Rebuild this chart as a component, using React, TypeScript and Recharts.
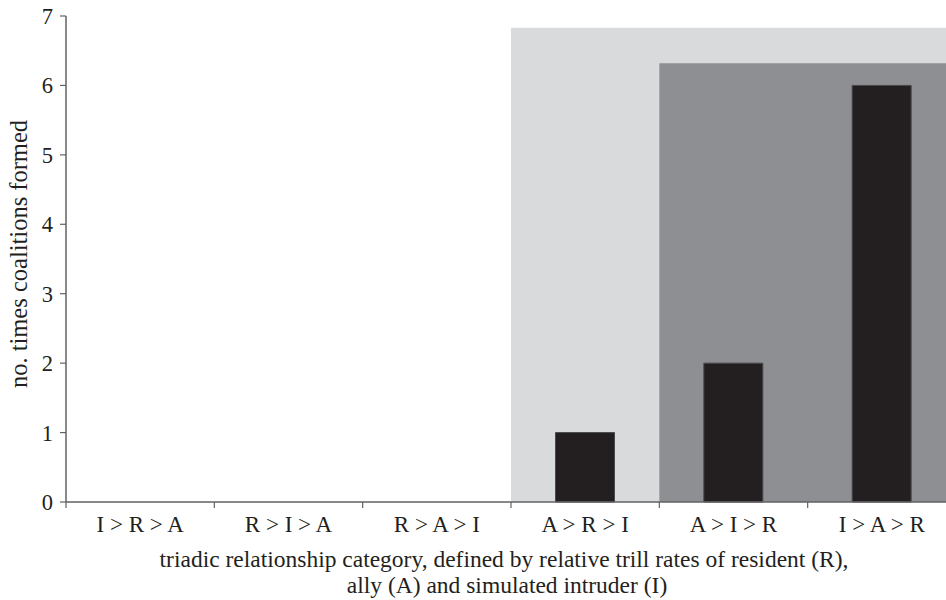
import React from "react";
import { BarChart, Bar, XAxis, YAxis, ReferenceArea } from "recharts";

const categories = ["I > R > A", "R > I > A", "R > A > I", "A > R > I", "A > I > R", "I > A > R"];
const coalitions = [0, 0, 0, 1, 2, 6];
const yTicks = [0, 1, 2, 3, 4, 5, 6, 7];
const shadeStarts = ["A > R > I", "A > I > R"];
const shadeTops = [6.83, 6.32];
const shadeColors = ["#d9dadc", "#8e8f92"];
const xLabelLines = [
  "triadic relationship category, defined by relative trill rates of resident (R),",
  "ally (A) and simulated intruder (I)",
];
const yLabel = "no. times coalitions formed";

const data = categories.map((c, i) => ({ category: c, value: coalitions[i] }));

const FONT = "'Liberation Serif', 'Times New Roman', serif";
const TEXT = "#231f20";
const AXIS = "#626264";

const XTick = (props: any) => {
  const { x, y, payload, width, visibleTicksCount } = props;
  const half = width / (visibleTicksCount || categories.length) / 2;
  const bx = x - half;
  return (
    <g>
      <line x1={bx} y1={y} x2={bx} y2={y + 6} stroke={AXIS} strokeWidth={1.2} />
      <text x={x} y={y + 30} textAnchor="middle" fontFamily={FONT} fontSize={23} fill={TEXT}>
        {payload.value}
      </text>
    </g>
  );
};

const XLabel = (props: any) => {
  const vb = props.viewBox || {};
  const cx = vb.x + vb.width / 2 - 7;
  return (
    <text x={cx} y={vb.y + 65} textAnchor="middle" fontFamily={FONT} fontSize={23.5} fill={TEXT}>
      <tspan x={cx} dy={0}>{xLabelLines[0]}</tspan>
      <tspan x={cx + 3} dy={26}>{xLabelLines[1]}</tspan>
    </text>
  );
};

const YLabel = (props: any) => {
  const vb = props.viewBox || {};
  const cy = vb.y + vb.height / 2 - 5;
  const x = 27;
  return (
    <text x={x} y={cy} textAnchor="middle" fontFamily={FONT} fontSize={24.5} fill={TEXT} transform={`rotate(-90, ${x}, ${cy})`}>
      {yLabel}
    </text>
  );
};

export default function App() {
  return (
    <div style={{ position: "absolute", left: 0, top: 0, width: 946, height: 600, overflow: "hidden", background: "#fff" }}>
      <BarChart
        width={970}
        height={600}
        data={data}
        margin={{ top: 16, right: 14, left: 0, bottom: 38 }}
        barCategoryGap="30%"
      >
        {shadeStarts.map((s, i) => (
          <ReferenceArea
            key={s}
            x1={s}
            x2={categories[categories.length - 1]}
            y1={0}
            y2={shadeTops[i]}
            fill={shadeColors[i]}
            fillOpacity={1}
            stroke="none"
            ifOverflow="visible"
          />
        ))}
        <XAxis
          dataKey="category"
          height={60}
          tickLine={false}
          axisLine={{ stroke: AXIS, strokeWidth: 1.5 }}
          tickSize={0}
          tickMargin={0}
          tick={<XTick />}
          interval={0}
          label={<XLabel />}
        />
        <YAxis
          width={66}
          domain={[0, 7]}
          ticks={yTicks}
          tickLine={{ stroke: AXIS, strokeWidth: 1.2 }}
          axisLine={{ stroke: AXIS, strokeWidth: 1.5 }}
          tickSize={6}
          tickMargin={7}
          tick={{ fontFamily: FONT, fontSize: 22.5, fill: TEXT }}
          interval={0}
          label={<YLabel />}
        />
        <Bar dataKey="value" fill="#231f20" stroke="#4a4a4c" strokeWidth={1} isAnimationActive={false} />
      </BarChart>
    </div>
  );
}
